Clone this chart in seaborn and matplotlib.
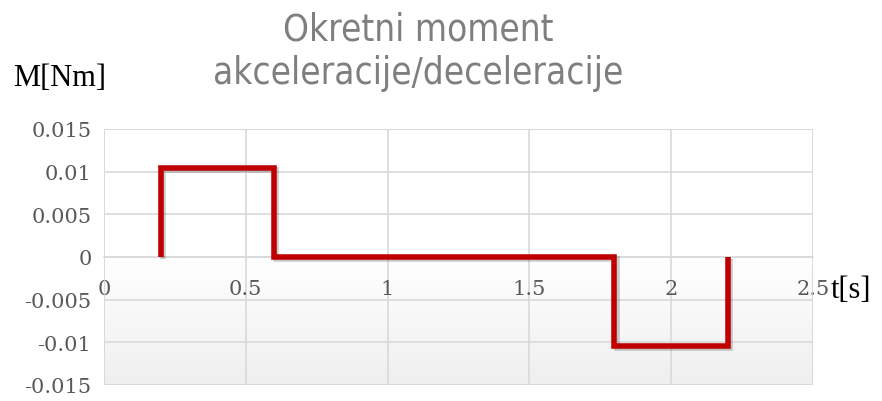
import numpy as np
import pandas as pd
import matplotlib
matplotlib.use("Agg")
import matplotlib.pyplot as plt
import matplotlib.patheffects as pe
from matplotlib.colors import LinearSegmentedColormap
import seaborn as sns

# Torque profile during acceleration / deceleration (step-shaped)
t_values = [0.2, 0.2, 0.6, 0.6, 1.8, 1.8, 2.2, 2.2]
m_values = [0.0, 0.0104, 0.0104, 0.0, 0.0, -0.0104, -0.0104, 0.0]

x_ticks = [0, 0.5, 1, 1.5, 2, 2.5]
x_tick_labels = ["0", "0.5", "1", "1.5", "2", "2.5"]
y_ticks = [-0.015, -0.01, -0.005, 0, 0.005, 0.01, 0.015]
y_tick_labels = ["-0.015", "-0.01", "-0.005", "0", "0.005", "0.01", "0.015"]

title_text = "Okretni moment\nakceleracije/deceleracije"
y_label = "M[Nm]"
x_label = "t[s]"

df = pd.DataFrame({"t": t_values, "M": m_values})

sns.set_theme(style="white")
plt.rcParams["font.family"] = ["DejaVu Serif"]

fig = plt.figure(figsize=(8.82, 4.02), dpi=100)
ax = fig.add_axes([104 / 882, 1 - 386 / 402, (813 - 104) / 882, (386 - 130) / 402])

# soft vertical gradient in the plot area: white on top, light grey at the bottom
grad = np.linspace(0, 1, 256).reshape(-1, 1)
cmap = LinearSegmentedColormap.from_list("bg", ["#ffffff", "#ffffff", "#efefef"])
ax.imshow(grad, extent=[0, 2.5, -0.015, 0.015], aspect="auto", cmap=cmap,
          origin="upper", zorder=0, vmin=0, vmax=1)

sns.lineplot(data=df, x="t", y="M", sort=False, estimator=None, ax=ax,
             color="#c00000", linewidth=4.0, zorder=5,
             path_effects=[pe.SimpleLineShadow(offset=(1.5, -1.5), shadow_color="#000000", alpha=0.2),
                           pe.Normal()])
for line in ax.lines:
    line.set_solid_joinstyle("miter")
    line.set_solid_capstyle("butt")

ax.set_xlim(0, 2.5)
ax.set_ylim(-0.015, 0.015)
ax.set_xticks(x_ticks)
ax.set_xticklabels(x_tick_labels)
ax.set_yticks(y_ticks)
ax.set_yticklabels(y_tick_labels)
ax.grid(True, color="#d9d9d9", linewidth=1.2, zorder=1)
ax.set_axisbelow(True)

for side in ["top", "right", "left"]:
    ax.spines[side].set_visible(False)
ax.spines["bottom"].set_position(("data", 0))
ax.spines["bottom"].set_color("#d9d9d9")
ax.spines["bottom"].set_linewidth(1.2)
# outer frame
for xv in (0, 2.5):
    ax.axvline(xv, color="#d9d9d9", linewidth=1.2, zorder=1)
for yv in (-0.015, 0.015):
    ax.axhline(yv, color="#d9d9d9", linewidth=1.2, zorder=1)

ax.tick_params(axis="both", length=0, labelsize=15, labelcolor="#595959")
ax.tick_params(axis="x", pad=16)
ax.tick_params(axis="y", pad=9)
ax.set_xlabel("")
ax.set_ylabel("")

fig.text(418 / 882, 1 - 52 / 402, title_text, ha="center", va="center",
         fontsize=26.5, color="#7f7f7f", linespacing=1.22,
         family=["DejaVu Sans"], fontstretch="condensed")
fig.text(13 / 882, 1 - 78 / 402, y_label, ha="left", va="center",
         fontsize=22, color="#000000", family=["Liberation Serif", "DejaVu Serif"])
fig.text(831 / 882, 1 - 290 / 402, x_label, ha="left", va="center",
         fontsize=22, color="#000000", family=["Liberation Serif", "DejaVu Serif"])

fig.savefig("out.png", dpi=100)
